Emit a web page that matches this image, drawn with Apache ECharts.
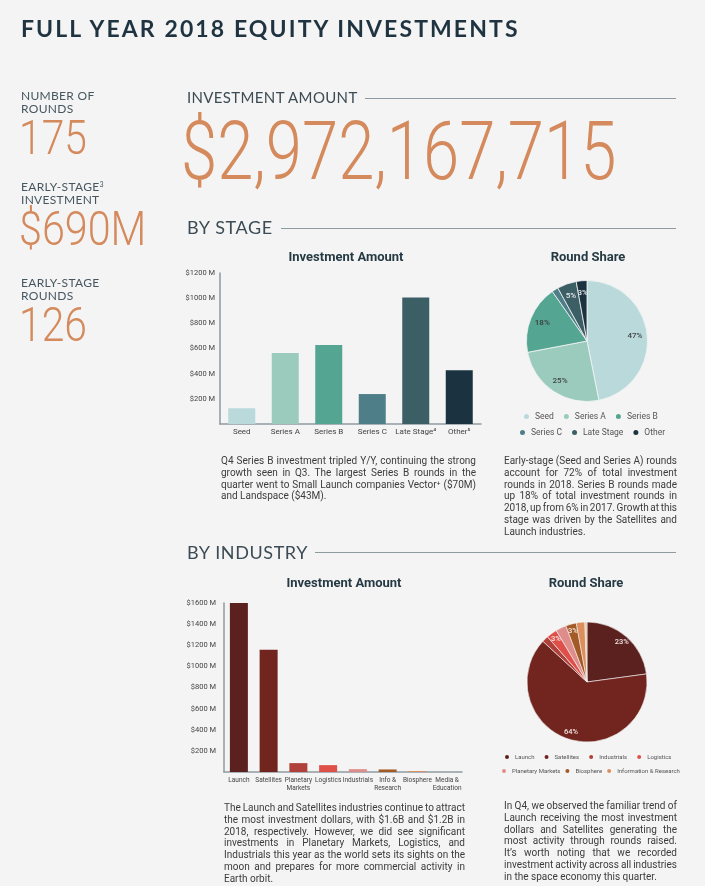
<!DOCTYPE html>
<html>
<head>
<meta charset="utf-8">
<script src="https://cdn.jsdelivr.net/npm/echarts@6/dist/echarts.min.js"></script>
<style>
html,body{margin:0;padding:0;background:#f4f4f4;}
#page{position:relative;width:705px;height:886px;overflow:hidden;background:#f4f4f4;}
#chart{position:absolute;left:0;top:0;width:705px;height:886px;}
.t{position:absolute;white-space:nowrap;}
.title{left:21px;top:14px;font-family:Lato;font-weight:700;font-size:23px;line-height:28px;letter-spacing:2.1px;color:#1f3440;}
.lab{font-family:Lato;font-size:12px;line-height:13px;color:#465660;letter-spacing:0.3px;}
.big{font-family:Roboto;font-weight:300;color:#d48a5c;line-height:1;transform-origin:0 0;}
.sec{font-family:Lato;color:#3c4b54;}
.rule{position:absolute;height:0;border-top:1.5px solid #8f9ba2;}
.para{position:absolute;font-family:Roboto;font-size:10px;color:#3c3c3c;}
.ln{height:11.8px;line-height:11.8px;white-space:nowrap;}
</style>
</head>
<body>
<div id="page">
  <div id="chart"></div>

  <div class="t title">FULL YEAR 2018 EQUITY INVESTMENTS</div>

  <div class="t lab" style="left:21px;top:89px;">NUMBER OF<br>ROUNDS</div>
  <div class="t big" style="left:19px;top:114px;font-size:48px;transform:scaleX(0.85);">175</div>
  <div class="t lab" style="left:21px;top:180px;">EARLY-STAGE<sup style="font-size:7px;vertical-align:top;line-height:8px;">3</sup><br>INVESTMENT</div>
  <div class="t big" style="left:19px;top:205px;font-size:48px;transform:scaleX(0.86);">$690M</div>
  <div class="t lab" style="left:21px;top:276px;">EARLY-STAGE<br>ROUNDS</div>
  <div class="t big" style="left:19px;top:301px;font-size:48px;transform:scaleX(0.85);">126</div>

  <div class="t sec" style="left:187px;top:88px;font-size:15px;line-height:18px;letter-spacing:0.35px;">INVESTMENT AMOUNT</div>
  <div class="rule" style="left:365px;width:311px;top:98px;"></div>
  <div class="t big" style="left:181px;top:110px;font-size:82px;transform:scaleX(0.795);">$2,972,167,715</div>

  <div class="t sec" style="left:187px;top:217px;font-size:18px;line-height:21px;letter-spacing:0.6px;">BY STAGE</div>
  <div class="rule" style="left:281px;width:395px;top:228px;"></div>

  <div class="t sec" style="left:187px;top:542px;font-size:18px;line-height:21px;letter-spacing:0.6px;">BY INDUSTRY</div>
  <div class="rule" style="left:315px;width:361px;top:552px;"></div>

  <div class="para" id="p1" style="left:221px;top:455px;width:255px;"></div>
  <div class="para" id="p2" style="left:504px;top:455px;width:173px;"></div>
  <div class="para" id="p3" style="left:224px;top:802px;width:241px;"></div>
  <div class="para" id="p4" style="left:504px;top:800px;width:173px;"></div>
</div>

<script>
// ---------- data ----------
const stageNames = ['Seed', 'Series A', 'Series B', 'Series C', 'Late Stage', 'Other'];
const stageAxisLabels = ['Seed', 'Series A', 'Series B', 'Series C', 'Late Stage\u2074', 'Other\u2075'];
const stageAmount = [125, 565, 628, 238, 1005, 428];      // $M
const stageRounds = [82, 44, 32, 3, 9, 5];                 // rounds
const stageTicks = [0, 200, 400, 600, 800, 1000, 1200];

const industryBarNames = ['Launch', 'Satellites', 'Planetary Markets', 'Logistics', 'Industrials', 'Info & Research', 'Biosphere', 'Media & Education'];
const industryAxisLabels = ['Launch', 'Satellites', 'Planetary\nMarkets', 'Logistics', 'Industrials', 'Info &\nResearch', 'Biosphere', 'Media &\nEducation'];
const industryAmount = [1605, 1158, 84, 65, 27, 24, 8, 1]; // $M
const industryTicks = [0, 200, 400, 600, 800, 1000, 1200, 1400, 1600];

const industryPieNames = ['Launch', 'Satellites', 'Industrials', 'Logistics', 'Planetary Markets', 'Biosphere', 'Information & Research', 'Media & Education'];
const industryRounds = [40, 112, 3, 5, 5, 5, 4, 1];

const para1 = ['Q4 Series B investment tripled Y/Y, continuing the strong',
  'growth seen in Q3. The largest Series B rounds in the',
  'quarter went to Small Launch companies Vector\u207A ($70M)',
  'and Landspace ($43M).'];
const para2 = ['Early-stage (Seed and Series A) rounds',
  'account for 72% of total investment',
  'rounds in 2018. Series B rounds made',
  'up 18% of total investment rounds in',
  '2018, up from 6% in 2017. Growth at this',
  'stage was driven by the Satellites and',
  'Launch industries.'];
const para3 = ['The Launch and Satellites industries continue to attract',
  'the most investment dollars, with $1.6B and $1.2B in',
  '2018, respectively. However, we did see significant',
  'investments in Planetary Markets, Logistics, and',
  'Industrials this year as the world sets its sights on the',
  'moon and prepares for more commercial activity in',
  'Earth orbit.'];
const para4 = ['In Q4, we observed the familiar trend of',
  'Launch receiving the most investment',
  'dollars and Satellites generating the',
  'most activity through rounds raised.',
  'It\u2019s worth noting that we recorded',
  'investment activity across all industries',
  'in the space economy this quarter.'];

// ---------- styles ----------
const stagePalette = ['#b9d9da', '#9acbbd', '#55a593', '#4e7f88', '#3c5f66', '#1b3340'];
const industryPalette = ['#5b211f', '#72241e', '#b0403a', '#e0504a', '#df8d8b', '#a35a26', '#dc8f5c', '#edc39c'];
const stageLabelColors = ['#444444', '#444444', '#3a3a3a', '#eeeeee', '#eeeeee', '#eeeeee'];
const FONT = 'Roboto';
const axisColor = '#8d9aa1';

// ---------- paragraphs ----------
function fill(id, lines) {
  const box = document.getElementById(id);
  const W = parseFloat(box.style.width);
  lines.forEach((txt, i) => {
    const d = document.createElement('div'); d.className = 'ln';
    const s = document.createElement('span'); s.textContent = txt;
    d.appendChild(s); box.appendChild(d);
    if (i < lines.length - 1) {
      const w = s.getBoundingClientRect().width;
      const n = (txt.match(/ /g) || []).length;
      if (n > 0) s.style.wordSpacing = ((W - w) / n) + 'px';
    }
  });
}
fill('p1', para1); fill('p2', para2); fill('p3', para3); fill('p4', para4);

// ---------- chart ----------
const chart = echarts.init(document.getElementById('chart'), null, {renderer: 'canvas'});

function pctLabel(p) { return p.percent >= 2.5 ? Math.round(p.percent) + '%' : ''; }

const stagePieData = stageNames.map((n, i) => ({name: n, value: stageRounds[i], itemStyle: {color: stagePalette[i]}}));
const stagePieLabelData = stageNames.map((n, i) => ({name: n, value: stageRounds[i], label: {color: stageLabelColors[i]}}));
const indPieData = industryPieNames.map((n, i) => ({name: n, value: industryRounds[i], itemStyle: {color: industryPalette[i]}}));
const indPieLabelData = industryPieNames.map((n, i) => ({name: n, value: industryRounds[i]}));

const yLab = v => v === 0 ? '' : '$' + v + ' M';

const legendCommon = {orient: 'horizontal', icon: 'circle', padding: 0, selectedMode: false};
const titleStyle = {fontFamily: FONT, fontSize: 13, fontWeight: 'bold', color: '#263a44'};

chart.setOption({
  animation: false,
  textStyle: {fontFamily: FONT},
  title: [
    {text: 'Investment Amount', left: 346, top: 251, textAlign: 'center', padding: 0, textStyle: titleStyle},
    {text: 'Round Share', left: 588, top: 251, textAlign: 'center', padding: 0, textStyle: titleStyle},
    {text: 'Investment Amount', left: 344, top: 577, textAlign: 'center', padding: 0, textStyle: titleStyle},
    {text: 'Round Share', left: 586, top: 577, textAlign: 'center', padding: 0, textStyle: titleStyle}
  ],
  grid: [
    {left: 220, top: 273, width: 261, height: 151},
    {left: 224, top: 603, width: 238, height: 169}
  ],
  xAxis: [
    {gridIndex: 0, type: 'category', data: stageAxisLabels,
     axisLine: {lineStyle: {color: axisColor, width: 1.5}}, axisTick: {show: false},
     axisLabel: {fontSize: 8, color: '#444', margin: 4, interval: 0}},
    {gridIndex: 1, type: 'category', data: industryAxisLabels,
     axisLine: {lineStyle: {color: axisColor, width: 1.5}}, axisTick: {show: false},
     axisLabel: {fontSize: 6.5, lineHeight: 7.5, color: '#444', margin: 5, interval: 0}}
  ],
  yAxis: [
    {gridIndex: 0, type: 'value', min: stageTicks[0], max: stageTicks[stageTicks.length - 1], interval: stageTicks[1] - stageTicks[0],
     axisLine: {show: true, lineStyle: {color: axisColor, width: 1.5}}, axisTick: {show: false}, splitLine: {show: false},
     axisLabel: {formatter: yLab, fontSize: 7.5, color: '#444', margin: 5}},
    {gridIndex: 1, type: 'value', min: industryTicks[0], max: industryTicks[industryTicks.length - 1], interval: industryTicks[1] - industryTicks[0],
     axisLine: {show: true, lineStyle: {color: axisColor, width: 1.5}}, axisTick: {show: false}, splitLine: {show: false},
     axisLabel: {formatter: yLab, fontSize: 7.5, color: '#444', margin: 8}}
  ],
  legend: [
    Object.assign({}, legendCommon, {data: stageNames.slice(0, 3), left: 522, top: 412, itemWidth: 7, itemHeight: 7, itemGap: 8,
      textStyle: {fontSize: 8.5, color: '#555', fontFamily: FONT}}),
    Object.assign({}, legendCommon, {data: stageNames.slice(3), left: 518, top: 428, itemWidth: 7, itemHeight: 7, itemGap: 8,
      textStyle: {fontSize: 8.5, color: '#555', fontFamily: FONT}}),
    Object.assign({}, legendCommon, {data: industryPieNames.slice(0, 4), left: 503, top: 753, itemWidth: 6, itemHeight: 6, itemGap: 8,
      textStyle: {fontSize: 6, color: '#555', fontFamily: FONT}}),
    Object.assign({}, legendCommon, {data: industryPieNames.slice(4, 7), left: 500, top: 767, itemWidth: 6, itemHeight: 6, itemGap: 3,
      textStyle: {fontSize: 6, color: '#555', fontFamily: FONT}})
  ],
  series: [
    {type: 'bar', xAxisIndex: 0, yAxisIndex: 0, data: stageAmount, barWidth: 27,
     itemStyle: {color: p => stagePalette[p.dataIndex]}},
    {type: 'bar', xAxisIndex: 1, yAxisIndex: 1, data: industryAmount, barWidth: 18,
     itemStyle: {color: p => industryPalette[p.dataIndex]}},
    {type: 'pie', center: [587, 341], radius: [0, 60.5], startAngle: 90, data: stagePieData,
     label: {show: false}, labelLine: {show: false}, emphasis: {disabled: true},
     itemStyle: {borderColor: '#f4f4f4', borderWidth: 0.8}},
    {type: 'pie', center: [587, 341], radius: [30, 60.5], startAngle: 90, data: stagePieLabelData,
     silent: true, itemStyle: {color: 'rgba(0,0,0,0)'}, emphasis: {disabled: true},
     label: {show: true, position: 'inside', formatter: pctLabel, fontSize: 8, fontWeight: 500, fontFamily: FONT}, labelLine: {show: false}},
    {type: 'pie', center: [587, 682], radius: [0, 60], startAngle: 90, data: indPieData,
     label: {show: false}, labelLine: {show: false}, emphasis: {disabled: true},
     itemStyle: {borderColor: '#f4f4f4', borderWidth: 0.6}},
    {type: 'pie', center: [587, 682], radius: [40, 60], startAngle: 90, data: indPieLabelData,
     silent: true, itemStyle: {color: 'rgba(0,0,0,0)'}, emphasis: {disabled: true},
     label: {show: true, position: 'inside', formatter: pctLabel, fontSize: 7.5, fontWeight: 500, color: '#f2e6e2', fontFamily: FONT}, labelLine: {show: false}}
  ]
});
</script>
</body>
</html>
